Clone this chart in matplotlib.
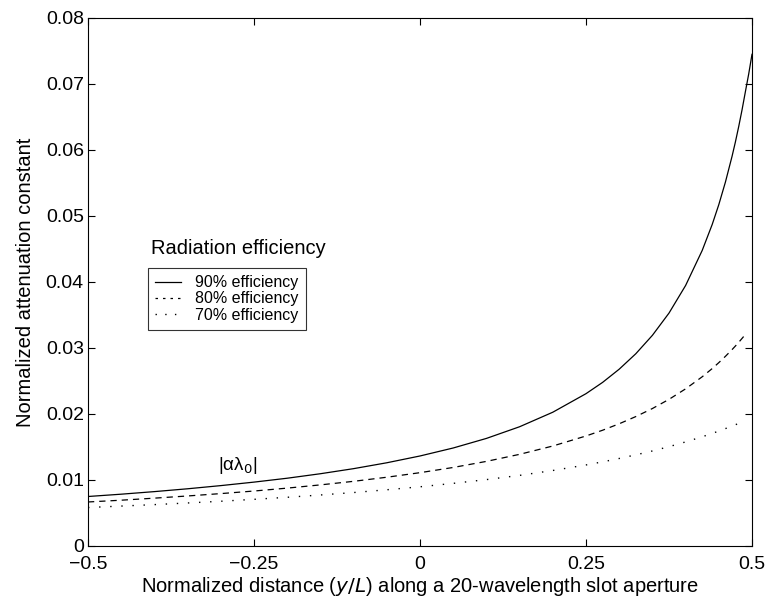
import matplotlib
matplotlib.use("Agg")
import matplotlib.pyplot as plt
from matplotlib.lines import Line2D

plt.rcParams['font.family'] = ['Liberation Sans', 'DejaVu Sans']

# x positions (normalized distance y/L)
x_pos = [-0.5, -0.45, -0.4, -0.35, -0.3, -0.25, -0.2, -0.15, -0.1, -0.05,
         0.0, 0.05, 0.1, 0.15, 0.2, 0.25, 0.275, 0.3, 0.325, 0.35, 0.375,
         0.4, 0.425, 0.44, 0.45, 0.46, 0.47, 0.475, 0.48, 0.485, 0.49,
         0.495, 0.5]

eff90 = [0.00750, 0.00785, 0.00824, 0.00867, 0.00915, 0.00968, 0.01027, 0.01095,
         0.01172, 0.01261, 0.01364, 0.01485, 0.01630, 0.01807, 0.02027, 0.02308,
         0.02479, 0.02679, 0.02913, 0.03192, 0.03529, 0.03947, 0.04478, 0.04870,
         0.05172, 0.05515, 0.05906, 0.06122, 0.06356, 0.06608, 0.06881, 0.07150,
         0.07450]

eff80 = [0.00667, 0.00694, 0.00725, 0.00758, 0.00794, 0.00833, 0.00877, 0.00926,
         0.00980, 0.01042, 0.01111, 0.01190, 0.01282, 0.01389, 0.01515, 0.01667,
         0.01754, 0.01852, 0.01961, 0.02083, 0.02222, 0.02381, 0.02564, 0.02688,
         0.02778, 0.02874, 0.02976, 0.03030, 0.03086, 0.03145, 0.03205]

eff70 = [0.00583, 0.00605, 0.00627, 0.00652, 0.00678, 0.00707, 0.00738, 0.00773,
         0.00810, 0.00852, 0.00897, 0.00949, 0.01006, 0.01070, 0.01144, 0.01228,
         0.01275, 0.01326, 0.01381, 0.01440, 0.01505, 0.01577, 0.01655, 0.01706,
         0.01741, 0.01779, 0.01817, 0.01837, 0.01858, 0.01879, 0.01900]

labels = ['90% efficiency', '80% efficiency', '70% efficiency']
xticks = [-0.5, -0.25, 0, 0.25, 0.5]
xticklabels = ['\u22120.5', '\u22120.25', '0', '0.25', '0.5']
yticks = [0, 0.01, 0.02, 0.03, 0.04, 0.05, 0.06, 0.07, 0.08]
yticklabels = ['0', '0.01', '0.02', '0.03', '0.04', '0.05', '0.06', '0.07', '0.08']

fig = plt.figure(figsize=(7.7, 6.02), dpi=100)
ax = fig.add_axes([88/770, 1-546/602, (752-88)/770, (546-18)/602])

ax.plot(x_pos, eff90, color='black', lw=0.9, ls='-')
ax.plot(x_pos[:len(eff80)], eff80, color='black', lw=0.9, ls=(0, (5, 4)))
ax.plot(x_pos[:len(eff70)], eff70, color='black', lw=1.0, ls=(0, (1, 7)))

ax.set_xlim(-0.5, 0.5)
ax.set_ylim(0, 0.08)
ax.set_xticks(xticks)
ax.set_xticklabels(xticklabels)
ax.set_yticks(yticks)
ax.set_yticklabels(yticklabels)
ax.tick_params(direction='in', top=True, right=True, labelsize=14, length=5, width=0.8)
ax.tick_params(axis='x', pad=7)
ax.tick_params(axis='y', pad=3)
for s in ax.spines.values():
    s.set_linewidth(0.8)

ax.set_xlabel('Normalized distance ($\\mathit{y/L}$) along a 20-wavelength slot aperture',
              fontsize=14.5, labelpad=2)
ax.set_ylabel('Normalized attenuation constant', fontsize=14.5, labelpad=8)

ax.text(-0.274, 0.0122, '|\u03b1\u03bb$_0$|', fontsize=13.5, ha='center', va='center')

fig.text(151/770, 1-249/602, 'Radiation efficiency', fontsize=14.5, ha='left', va='center')

handles = [Line2D([], [], color='black', lw=0.9, ls='-'),
           Line2D([], [], color='black', lw=0.9, ls=(0, (2, 4))),
           Line2D([], [], color='black', lw=1.0, ls=(0, (1, 6)))]
leg = fig.legend(handles, labels, loc='upper left',
                 bbox_to_anchor=(148/770, 1-268/602), fontsize=11.5,
                 frameon=True, fancybox=False, edgecolor='black',
                 handlelength=1.6, handletextpad=0.9, borderpad=0.45,
                 labelspacing=0.08, borderaxespad=0)
leg.get_frame().set_linewidth(0.8)

fig.savefig('out.png', dpi=100)
